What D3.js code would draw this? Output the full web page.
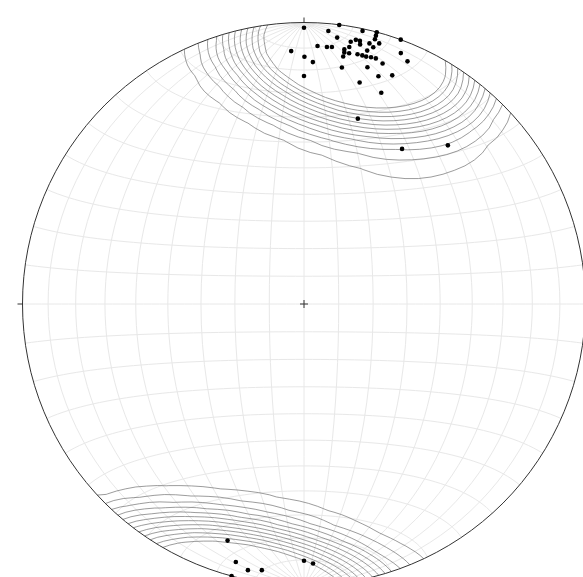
<!DOCTYPE html>
<html>
<head>
<meta charset="utf-8">
<script src="https://cdn.jsdelivr.net/npm/d3@7"></script>
<style>
  body { margin: 0; background: #fff; }
  svg { display: block; }
</style>
</head>
<body>
<div id="chart"></div>
<script>
// poles: trend and plunge in degrees (lower hemisphere)
const trends = [0, 7.2, 5.1, 12.1, 15.0, 15.0, 7.1, 20.1, 3.0, 5.1,
                6.2, 10.1, 11.1, 12.0, 12.2, 14.1, 15.0, 16.1, 15.1, 14.0,
                9.0, 10.0, 9.1, 10.2, 9.0, 12.1, 13.2, 14.1, 15.2, 16.3,
                15.0, 357.1, 0.1, 2.1, 9.1, 18.1, 21.1, 23.1, 0, 18.1,
                21.1, 14.1, 20.1, 16.2, 32.3, 42.2,
                197.9, 194.8, 191.9, 189.0, 194.9, 180, 178.0];
const plunges = [2.1, 0.1, 3.0, 0.9, 0.1, 1.5, 5.2, 0.0, 9.1, 9.2,
                 9.0, 6.0, 4.9, 5.0, 6.3, 5.1, 3.0, 4.1, 6.2, 8.0,
                 9.3, 8.1, 10.4, 10.4, 12.0, 10.2, 10.2, 10.3, 10.1, 10.0,
                 14.0, 11.0, 13.2, 15.1, 16.0, 11.1, 5.0, 7.0, 20.1, 16.0,
                 14.0, 20.0, 21.2, 32.0, 35.1, 24.9,
                 12.7, 5.8, 3.8, 4.8, 0.0, 9.7, 8.6];

// grid spacing (meridians, parallels) in degrees
const gridStep = [10, 8];
// linear kamb smoothing
const sigma = 3.25;
const gridN = 40;
// contour levels as fractions of the peak density
const levelFrac = [0.06, 0.11, 0.16, 0.21, 0.26, 0.31, 0.36, 0.41, 0.46, 0.51, 0.56, 0.61];

const width = 583, height = 577;
const cx = 304, cy = 304, R = 281.5;
const rad = Math.PI / 180;

// trend/plunge -> stereonet lon/lat
function toLonLat(t, p) {
  const tr = t * rad, pr = p * rad;
  const east = Math.sin(tr) * Math.cos(pr),
        north = Math.cos(tr) * Math.cos(pr),
        down = Math.sin(pr);
  return [Math.atan2(east, down) / rad, Math.asin(north) / rad];
}
const poles = trends.map((t, i) => toLonLat(t, plunges[i]));

const projection = d3.geoAzimuthalEqualArea()
  .rotate([0, 0])
  .scale(R / Math.SQRT2)
  .translate([cx, cy])
  .clipAngle(90)
  .precision(0.1);
const path = d3.geoPath(projection);

const svg = d3.select("#chart").append("svg")
  .attr("width", width)
  .attr("height", height);

// graticule
const graticule = d3.geoGraticule()
  .extent([[-180, -90], [180, 90]])
  .step(gridStep);
svg.append("path")
  .datum(graticule())
  .attr("d", path)
  .attr("fill", "none")
  .attr("stroke", "#e8e8e8")
  .attr("stroke-width", 1);

// density on a lon/lat grid
const xyz = ll => {
  const l = ll[0] * rad, f = ll[1] * rad;
  return [Math.cos(f) * Math.cos(l), Math.cos(f) * Math.sin(l), Math.sin(f)];
};
const pts = poles.map(xyz);
const n = pts.length;
const radius = 1 - sigma * sigma / (n + sigma * sigma);
const fk = 2 / (1 - radius);
const units = Math.sqrt(n * radius * (1 - radius));
const step = 180 / (gridN - 1);
const values = new Array(gridN * gridN);
for (let j = 0; j < gridN; j++) {
  for (let i = 0; i < gridN; i++) {
    const v = xyz([-90 + i * step, -90 + j * step]);
    let s = 0;
    pts.forEach(p => {
      const c = Math.abs(v[0] * p[0] + v[1] * p[1] + v[2] * p[2]);
      if (c >= radius) s += fk * (c - radius);
    });
    values[j * gridN + i] = Math.max(0, (s - 0.5) / units);
  }
}
const zmax = d3.max(values);
const levels = levelFrac.map(f => f * zmax);

const onEdge = p => p[0] === 0 || p[0] === gridN || p[1] === 0 || p[1] === gridN;
const toGeo = p => [Math.max(-90, Math.min(90, -90 + (p[0] - 0.5) * step)),
                    Math.max(-90, Math.min(90, -90 + (p[1] - 0.5) * step))];

const contours = d3.contours().size([gridN, gridN]).thresholds(levels)(values);
const contourLines = contours.map(c => {
  const parts = [];
  c.coordinates.forEach(poly => poly.forEach(ring => {
    let cur = [];
    for (let k = 1; k < ring.length; k++) {
      const a = ring[k - 1], b = ring[k];
      if (onEdge(a) && onEdge(b)) {
        if (cur.length > 1) parts.push(cur);
        cur = [];
        continue;
      }
      if (!cur.length) cur.push(toGeo(a));
      cur.push(toGeo(b));
    }
    if (cur.length > 1) parts.push(cur);
  }));
  return {type: "MultiLineString", coordinates: parts};
});

svg.append("g")
  .selectAll("path")
  .data(contourLines)
  .join("path")
    .attr("d", path)
    .attr("fill", "none")
    .attr("stroke", "#666")
    .attr("stroke-width", 0.65);

// primitive circle
svg.append("circle")
  .attr("cx", cx).attr("cy", cy).attr("r", R)
  .attr("fill", "none")
  .attr("stroke", "#333")
  .attr("stroke-width", 1);

// N E S W ticks + centre cross
const ticks = [[0, -1], [1, 0], [0, 1], [-1, 0]];
svg.append("g")
  .selectAll("line")
  .data(ticks)
  .join("line")
    .attr("x1", d => cx + d[0] * R)
    .attr("y1", d => cy + d[1] * R)
    .attr("x2", d => cx + d[0] * (R + 5))
    .attr("y2", d => cy + d[1] * (R + 5))
    .attr("stroke", "#333")
    .attr("stroke-width", 1);
svg.append("path")
  .attr("d", `M${cx - 4},${cy}H${cx + 4}M${cx},${cy - 4}V${cy + 4}`)
  .attr("stroke", "#333")
  .attr("stroke-width", 1);

// poles
svg.append("g")
  .selectAll("circle")
  .data(poles)
  .join("circle")
    .attr("cx", d => projection(d)[0])
    .attr("cy", d => projection(d)[1])
    .attr("r", 2.3)
    .attr("fill", "#000");
</script>
</body>
</html>
